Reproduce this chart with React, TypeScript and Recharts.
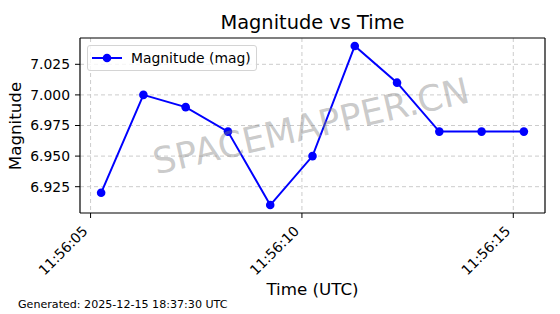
import { LineChart, Line, XAxis, YAxis, CartesianGrid, Legend, ReferenceLine } from "recharts";

// seconds after 11:56:00 UTC
const timeSeconds = [5.25, 6.25, 7.25, 8.25, 9.25, 10.25, 11.25, 12.25, 13.25, 14.25, 15.25];
const magnitudes = [6.92, 7.0, 6.99, 6.97, 6.91, 6.95, 7.04, 7.01, 6.97, 6.97, 6.97];
const xTicks = [5, 10, 15];
const yTicks = [6.925, 6.95, 6.975, 7.0, 7.025];
const xDomain = [4.75, 15.75];
const yDomain = [6.9035, 7.0465];

const data = timeSeconds.map((t, i) => ({ t, mag: magnitudes[i] }));

const FONT = "'DejaVu Sans', sans-serif";

const fmtTime = (s: number) => `11:56:${String(Math.round(s)).padStart(2, "0")}`;

const XTick = ({ x, y, payload }: any) => (
  <g transform={`translate(${x - 2},${y + 9})`}>
    <text
      x={0}
      y={0}
      textAnchor="end"
      transform="rotate(-45)"
      fontSize={13.9}
      fontFamily={FONT}
      fill="#000"
    >
      {fmtTime(payload.value)}
    </text>
  </g>
);

const LegendBox = () => (
  <div
    style={{
      width: 170,
      height: 26,
      border: "1px solid #d4d4d4",
      borderRadius: 3,
      background: "rgba(255,255,255,0.8)",
      display: "flex",
      alignItems: "center",
      fontFamily: FONT,
      fontSize: 13.9,
      boxSizing: "border-box",
    }}
  >
    <svg width={40} height={24} style={{ marginLeft: 3 }}>
      <line x1={1} y1={12} x2={31} y2={12} stroke="#0000ff" strokeWidth={2} />
      <circle cx={16} cy={12} r={4.3} fill="#0000ff" />
    </svg>
    <span>Magnitude (mag)</span>
  </div>
);

export default function App() {
  return (
    <div
      style={{
        position: "absolute",
        left: 0,
        top: 0,
        width: 560,
        height: 314,
        background: "#fff",
        fontFamily: FONT,
        overflow: "hidden",
      }}
    >
      <LineChart
        width={560}
        height={314}
        data={data}
        margin={{ top: 38, right: 15, left: 0, bottom: 0 }}
      >
        <CartesianGrid
          stroke="#cccccc"
          strokeDasharray="4 3"
          verticalValues={xTicks}
          horizontalValues={yTicks}
        />
        <XAxis
          dataKey="t"
          type="number"
          domain={xDomain}
          ticks={xTicks}
          height={101}
          interval={0}
          tickSize={5}
          tickMargin={5}
          tick={<XTick />}
          axisLine={{ stroke: "#000", strokeWidth: 1.2 }}
          tickLine={{ stroke: "#000" }}
          allowDataOverflow
        />
        <YAxis
          type="number"
          domain={yDomain}
          ticks={yTicks}
          width={80}
          interval={0}
          tickSize={5}
          tickMargin={5}
          tickFormatter={(v: number) => v.toFixed(3)}
          tick={{ fill: "#000", fontSize: 13.9, fontFamily: FONT }}
          axisLine={{ stroke: "#000", strokeWidth: 1.2 }}
          tickLine={{ stroke: "#000" }}
          allowDataOverflow
        />
        {/* top and right spines */}
        <ReferenceLine y={yDomain[1]} stroke="#000" strokeWidth={1.2} ifOverflow="visible" />
        <ReferenceLine x={xDomain[1]} stroke="#000" strokeWidth={1.2} ifOverflow="visible" />
        <Legend
          layout="horizontal"
          verticalAlign="middle"
          align="center"
          content={<LegendBox />}
          wrapperStyle={{ left: 87, top: 45, width: "auto" }}
        />
        <Line
          dataKey="mag"
          name="Magnitude (mag)"
          stroke="#0000ff"
          strokeWidth={2}
          dot={{ r: 4.3, fill: "#0000ff", stroke: "#0000ff", strokeWidth: 0 }}
          activeDot={false}
          isAnimationActive={false}
        />
      </LineChart>

      <div
        style={{
          position: "absolute",
          left: 0,
          width: 625,
          top: 11,
          textAlign: "center",
          fontSize: 19.4,
          lineHeight: "24px",
          color: "#000",
        }}
      >
        Magnitude vs Time
      </div>
      <div
        style={{
          position: "absolute",
          left: 311,
          top: 126,
          transform: "translate(-50%,-50%) rotate(-13deg)",
          fontSize: 36,
          color: "rgba(128,128,128,0.42)",
          whiteSpace: "nowrap",
          pointerEvents: "none",
        }}
      >
        SPACEMAPPER.CN
      </div>
      <div
        style={{
          position: "absolute",
          left: 312.5,
          top: 289,
          transform: "translate(-50%,-50%)",
          fontSize: 16.7,
          whiteSpace: "nowrap",
        }}
      >
        Time (UTC)
      </div>
      <div
        style={{
          position: "absolute",
          left: 15,
          top: 125.5,
          transform: "translate(-50%,-50%) rotate(-90deg)",
          fontSize: 16.7,
          whiteSpace: "nowrap",
        }}
      >
        Magnitude
      </div>
      <div
        style={{
          position: "absolute",
          left: 18,
          top: 298,
          fontSize: 11.1,
          whiteSpace: "nowrap",
        }}
      >
        Generated: 2025-12-15 18:37:30 UTC
      </div>
    </div>
  );
}
